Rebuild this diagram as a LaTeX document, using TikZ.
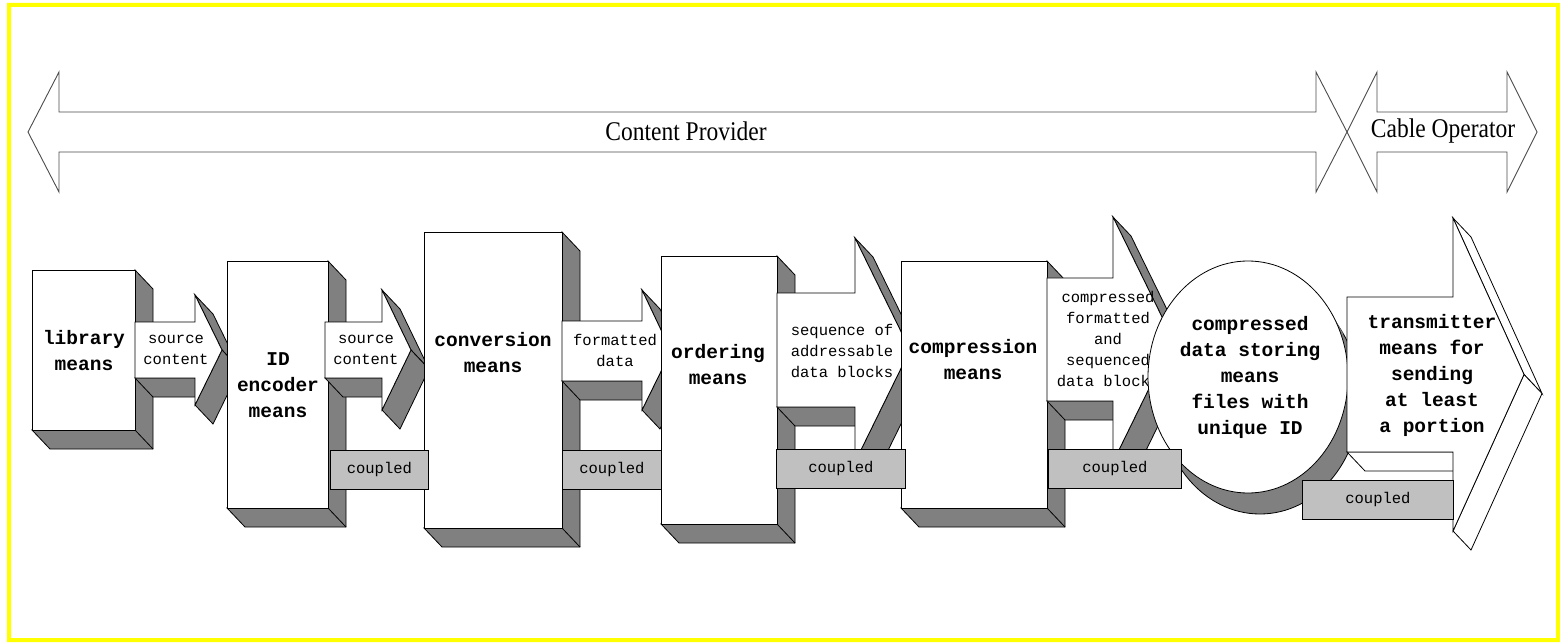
\documentclass[tikz,border=0pt]{standalone}
\usepackage{fontspec}
\setmainfont{Liberation Serif}
\newfontfamily\monof{Liberation Mono}
\usetikzlibrary{shapes.geometric}
\definecolor{shd}{HTML}{808080}
\definecolor{barc}{HTML}{C0C0C0}
\definecolor{frame}{HTML}{FFFF00}
\newcommand\tbox[5]{%
  \filldraw[sh] (#4,#3) -- ++(18,19) -- (#4+18,#5+19) -- (#2+18,#5+19) -- (#2,#5) -- (#4,#5) -- cycle;
  \draw[ol] (#4,#5) -- ++(18,19);
  \node[front, minimum width={#4-#2}, minimum height={#5-#3}, anchor=north west] (#1) at (#2,#3) {};
}
\def\afstyle{sh}
\newcommand\tarrow[9]{%
  \coordinate (#1-t) at (#8,#9);
  \filldraw[\afstyle] (#2,#5) -- (#3,#5) -- ++(18,19) -- (#2+18,#5+19) -- cycle;
  \filldraw[\afstyle] (#3,#6) -- (#1-t) -- (#8+18,#9+19) -- (#3+18,#6+19) -- cycle;
  \filldraw[\afstyle] (#1-t) -- (#3,#7) -- (#3+18,#7+19) -- (#8+18,#9+19) -- cycle;
  \filldraw[arrfront] (#2,#4) -- (#3,#4) -- (#3,#6) -- (#1-t) -- (#3,#7) -- (#3,#5) -- (#2,#5) -- cycle;
}
\begin{document}
\begin{tikzpicture}[x=1pt,y=-1pt, line join=miter,
  ol/.style={draw=black, line width=0.8pt},
  sh/.style={fill=shd, draw=black, line width=0.8pt},
  wh/.style={fill=white, draw=black, line width=0.8pt},
  front/.style={fill=white, draw=black, line width=0.8pt, inner sep=0pt},
  arrfront/.style={fill=white, draw=black, line width=0.8pt},
  big/.style={font=\monof\bfseries\fontsize{19.5}{26}\selectfont, align=center, inner sep=0pt},
  small/.style={font=\monof\fontsize{15.5}{21}\selectfont, align=center, inner sep=0pt},
  cbar/.style={fill=barc, draw=black, line width=0.8pt, inner sep=0pt, font=\monof\fontsize{15.5}{21}\selectfont, anchor=north west},
  band/.style={draw=black!70, line width=0.9pt},
  bandtext/.style={font=\fontsize{27}{30}\selectfont, inner sep=0pt}
]
\useasboundingbox (0,0) rectangle (1560,644);
\fill[white] (0,0) rectangle (1560,644);
\fill[frame, even odd rule] (7,3) rectangle (1560,642) (11,7) rectangle (1556,638);

% top bands
\draw[band] (28,132) -- (59,72) -- (59,112) -- (1316,112) -- (1316,72) -- (1347,132) -- (1316,192) -- (1316,152) -- (59,152) -- (59,192) -- cycle;
\draw[band] (1347,132) -- (1377,72) -- (1377,112) -- (1507,112) -- (1507,72) -- (1537,132) -- (1507,192) -- (1507,152) -- (1377,152) -- (1377,192) -- cycle;
\node[bandtext] (cp) at (686,131) {\scalebox{0.87}[1]{Content Provider}};
\node[bandtext] (co) at (1443,131) {\scalebox{0.87}[1]{Cable Operator}};

% library
\tbox{lib}{32}{270}{135}{430}
\node[big] (libt) at (84,351) {library\\means};
% arrow 1
\tarrow{a1}{135}{195}{322}{378}{295}{405}{222}{350}
\node[small] (a1t) at (176,350) {source\\content};
% ID encoder
\tbox{ide}{227}{261}{328}{508}
\node[big] (idet) at (278,385) {ID\\encoder\\means};
% arrow 2
\tarrow{a2}{325}{382}{322}{378}{290}{410}{411}{350}
\node[small] (a2t) at (366,350) {source\\content};
% conversion
\tbox{conv}{424}{232}{562}{528}
\node[big] (convt) at (493,353) {conversion\\means};
% arrow 3
\tarrow{a3}{562}{642}{321}{381}{290}{410}{671}{351}
\node[small] (a3t) at (615,350) {formatted\\data};
% ordering
\tbox{ord}{661}{256}{777}{524}
\node[big] (ordt) at (718,365) {ordering\\means};
% arrow 4
\tarrow{a4}{777}{855}{293}{407}{238}{462}{910}{350}
\node[small] (a4t) at (842,351) {sequence of\\addressable\\data blocks};
% compression
\tbox{comp}{901}{261}{1047}{508}
\node[big] (compt) at (973,360) {compression\\means};
% arrow 5
\tarrow{a5}{1047}{1113}{278}{401}{217}{462}{1173}{339.5}
\node[small] (a5t) at (1108,339) {compressed\\formatted\\and\\sequenced\\data blocks};
% storage cylinder
\filldraw[sh] (1260,398) ellipse [x radius=100, y radius=116];
\fill[shd] (1331.4,313) -- (1343.4,334) -- (1176.6,462) -- (1164.6,441) -- cycle;
\node[ellipse, fill=white, draw=black, line width=0.8pt, minimum width=200, minimum height=232, inner sep=0pt] (store) at (1248,377) {};
\node[big] (storet) at (1250,377) {compressed\\data storing\\means\\files with\\unique ID};
% transmitter arrow
\def\afstyle{wh}
\tarrow{tx}{1347}{1453}{297}{452}{218}{531}{1524}{374.5}
\node[big] (txt) at (1432,375) {transmitter\\means for\\sending\\at least\\a portion};

% coupled bars
\node[cbar, minimum width=98, minimum height=39] (c1) at (330,450) {coupled};
\node[cbar, minimum width=99, minimum height=39] (c2) at (562,450) {coupled};
\node[cbar, minimum width=129, minimum height=39] (c3) at (776,449) {coupled};
\node[cbar, minimum width=133, minimum height=39] (c4) at (1048,449) {coupled};
\node[cbar, minimum width=151, minimum height=39] (c5) at (1302,480) {coupled};
\end{tikzpicture}
\end{document}
